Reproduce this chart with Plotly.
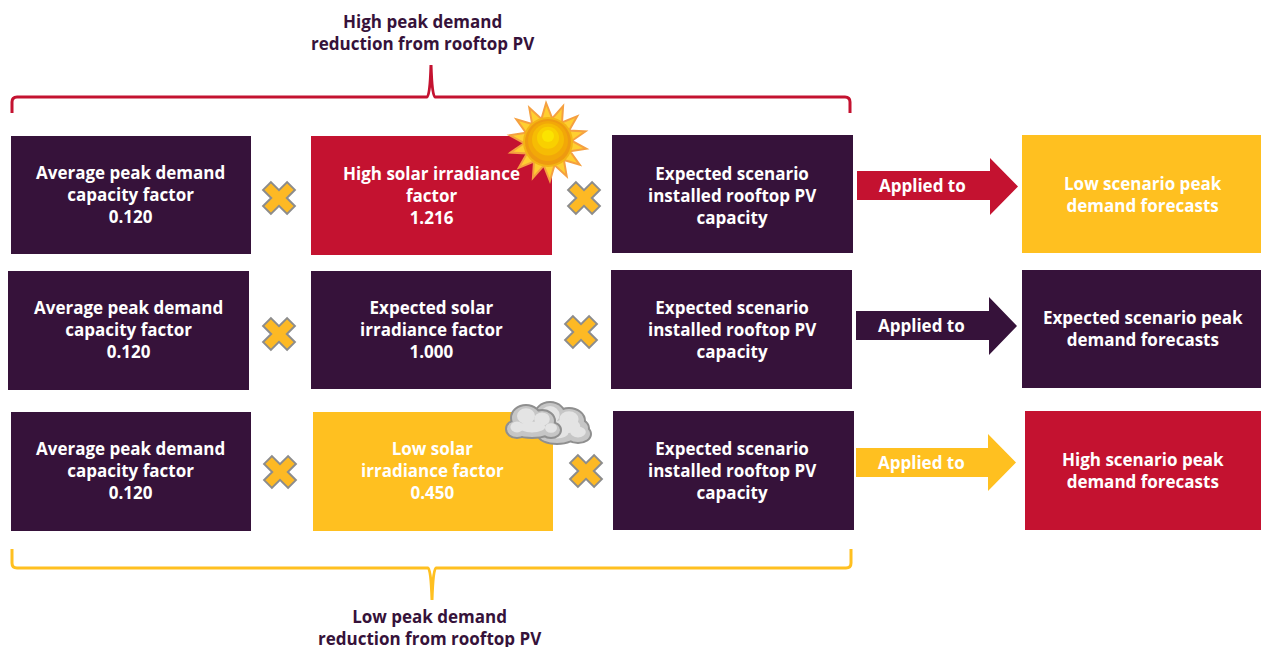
import math
import plotly.graph_objects as go

PURPLE = "#36123A"
RED = "#C41230"
YELLOW = "#FFC020"
FONT = "'Open Sans', Lato, sans-serif"
FS = 17

# x0, y0, x1, y1, colour, text, text-centre-x, text-centre-y
boxes = [
    (11, 136, 251, 254, PURPLE, "Average peak demand<br>capacity factor<br>0.120", 130, 194),
    (311, 136, 552, 255, RED, "High solar irradiance<br>factor<br>1.216", 431, 195),
    (612, 135, 853, 253, PURPLE, "Expected scenario<br>installed rooftop PV<br>capacity", 732, 195),
    (1022, 135, 1261, 253, YELLOW, "Low scenario peak<br>demand forecasts", 1143, 194),
    (8, 271, 249, 390, PURPLE, "Average peak demand<br>capacity factor<br>0.120", 128, 329),
    (311, 271, 551, 389, PURPLE, "Expected solar<br>irradiance factor<br>1.000", 431, 329),
    (611, 270, 852, 389, PURPLE, "Expected scenario<br>installed rooftop PV<br>capacity", 732, 329),
    (1022, 270, 1261, 388, PURPLE, "Expected scenario peak<br>demand forecasts", 1143, 328),
    (11, 412, 251, 531, PURPLE, "Average peak demand<br>capacity factor<br>0.120", 130, 470),
    (313, 412, 553, 531, YELLOW, "Low solar<br>irradiance factor<br>0.450", 432, 470),
    (613, 411, 854, 530, PURPLE, "Expected scenario<br>installed rooftop PV<br>capacity", 732, 470),
    (1025, 411, 1261, 530, RED, "High scenario peak<br>demand forecasts", 1143, 470),
]
# x0, x-head, x-tip, shaft top, shaft bottom, head top, head bottom, colour, text x
arrows = [
    (857, 990, 1018, 171, 200, 158, 215, RED, 922),
    (856, 989, 1017, 311, 340, 297, 355, PURPLE, 921),
    (856, 988, 1016, 448, 477, 434, 491, YELLOW, 921),
]
times_marks = [(279, 198), (584, 198), (279, 334), (581, 332), (280, 472), (586, 471)]
captions = [
    ("High peak demand<br>reduction from rooftop PV", 423, 32),
    ("Low peak demand<br>reduction from rooftop PV", 430, 627),
]

shapes = []
annotations = []

for x0, y0, x1, y1, col, txt, tx, ty in boxes:
    shapes.append(dict(type="rect", x0=x0, y0=y0, x1=x1, y1=y1,
                       fillcolor=col, line=dict(width=0), layer="below"))
    annotations.append(dict(x=tx, y=ty, text=f"<b>{txt}</b>", showarrow=False,
                            font=dict(color="white", size=FS, family=FONT)))

for x0, xh, xt, st, sb, ht, hb, col, tx in arrows:
    ym = (ht + hb) / 2
    path = f"M{x0},{st} L{xh},{st} L{xh},{ht} L{xt},{ym} L{xh},{hb} L{xh},{sb} L{x0},{sb} Z"
    shapes.append(dict(type="path", path=path, fillcolor=col, line=dict(width=0)))
    annotations.append(dict(x=tx, y=(st + sb) / 2, text="<b>Applied to</b>", showarrow=False,
                            font=dict(color="white", size=FS, family=FONT)))

# multiplication marks
for cx, cy in times_marks:
    a, b = 17, 5.5
    pts = [(-b, -a), (b, -a), (b, -b), (a, -b), (a, b), (b, b), (b, a), (-b, a), (-b, b), (-a, b), (-a, -b), (-b, -b)]
    c = math.cos(math.pi / 4)
    rot = [(cx + (px - py) * c, cy + (px + py) * c) for px, py in pts]
    path = "M" + " L".join(f"{x:.1f},{y:.1f}" for x, y in rot) + " Z"
    shapes.append(dict(type="path", path=path, fillcolor="#FDB924",
                       line=dict(color="#8C8C8C", width=2)))

# brackets
top_bracket = "M12,113 L12,102 Q12,97 17,97 L427,97 Q430,97 431,65 Q432,97 435,97 L845,97 Q850,97 850,102 L850,113"
bottom_bracket = "M12,549 L12,563 Q12,568 17,568 L428,568 Q431,568 432,600 Q433,568 436,568 L846,568 Q851,568 851,563 L851,549"
shapes.append(dict(type="path", path=top_bracket, line=dict(color=RED, width=3)))
shapes.append(dict(type="path", path=bottom_bracket, line=dict(color=YELLOW, width=3)))

for txt, x, y in captions:
    annotations.append(dict(x=x, y=y, text=f"<b>{txt}</b>", showarrow=False,
                            font=dict(color=PURPLE, size=FS, family=FONT)))


def circle(cx, cy, rx, ry, fill, line=None, width=0):
    return dict(type="circle", x0=cx - rx, x1=cx + rx, y0=cy - ry, y1=cy + ry, fillcolor=fill,
                line=dict(color=line or fill, width=width))


# sun
sx, sy = 548, 142
n = 14
pts = []
for i in range(2 * n):
    r = 39 if i % 2 == 0 else 24
    ang = math.pi * i / n - math.pi / 2 - 0.05
    pts.append((sx + r * math.cos(ang), sy + r * math.sin(ang)))
shapes.append(dict(type="path", path="M" + " L".join(f"{x:.1f},{y:.1f}" for x, y in pts) + " Z",
                   fillcolor="#FFCF30", line=dict(color="#F5A040", width=2)))
for r, col in [(25, "#F4B414"), (23, "#EE9A10"), (20, "#F2A808"), (16, "#F6BC04"), (11, "#F9D000"), (6, "#FBE400")]:
    shapes.append(circle(sx, sy - (23 - min(r, 23)) * 0.35, r, r, col))

# clouds: back then front
back = [(550, 417, 16, 15), (569, 421, 16, 13), (557, 435, 19, 9), (578, 434, 13, 9), (567, 428, 22, 12)]
front = [(526, 418, 15, 13), (542, 421, 13, 11), (517, 429, 11, 9), (551, 430, 10, 8), (532, 429, 22, 9)]
for group in (back, front):
    for cx, cy, rx, ry in group:
        shapes.append(circle(cx, cy, rx, ry, "#8F8F8F", "#8F8F8F", 2))
    for cx, cy, rx, ry in group:
        shapes.append(circle(cx, cy, rx - 1, ry - 1, "#C6C6C6"))
    for cx, cy, rx, ry in group:
        shapes.append(circle(cx, cy - 2, rx * 0.6, ry * 0.6, "#E4E4E4"))

fig = go.Figure()
fig.update_layout(
    width=1261, height=647, margin=dict(l=0, r=0, t=0, b=0),
    paper_bgcolor="white", plot_bgcolor="white", showlegend=False,
    xaxis=dict(range=[0, 1261], visible=False, fixedrange=True),
    yaxis=dict(range=[647, 0], visible=False, fixedrange=True),
    shapes=shapes, annotations=annotations,
)
fig.write_html("out.html", config=dict(displayModeBar=False),
               post_script="document.body.style.margin='0';document.body.style.overflow='hidden';")
